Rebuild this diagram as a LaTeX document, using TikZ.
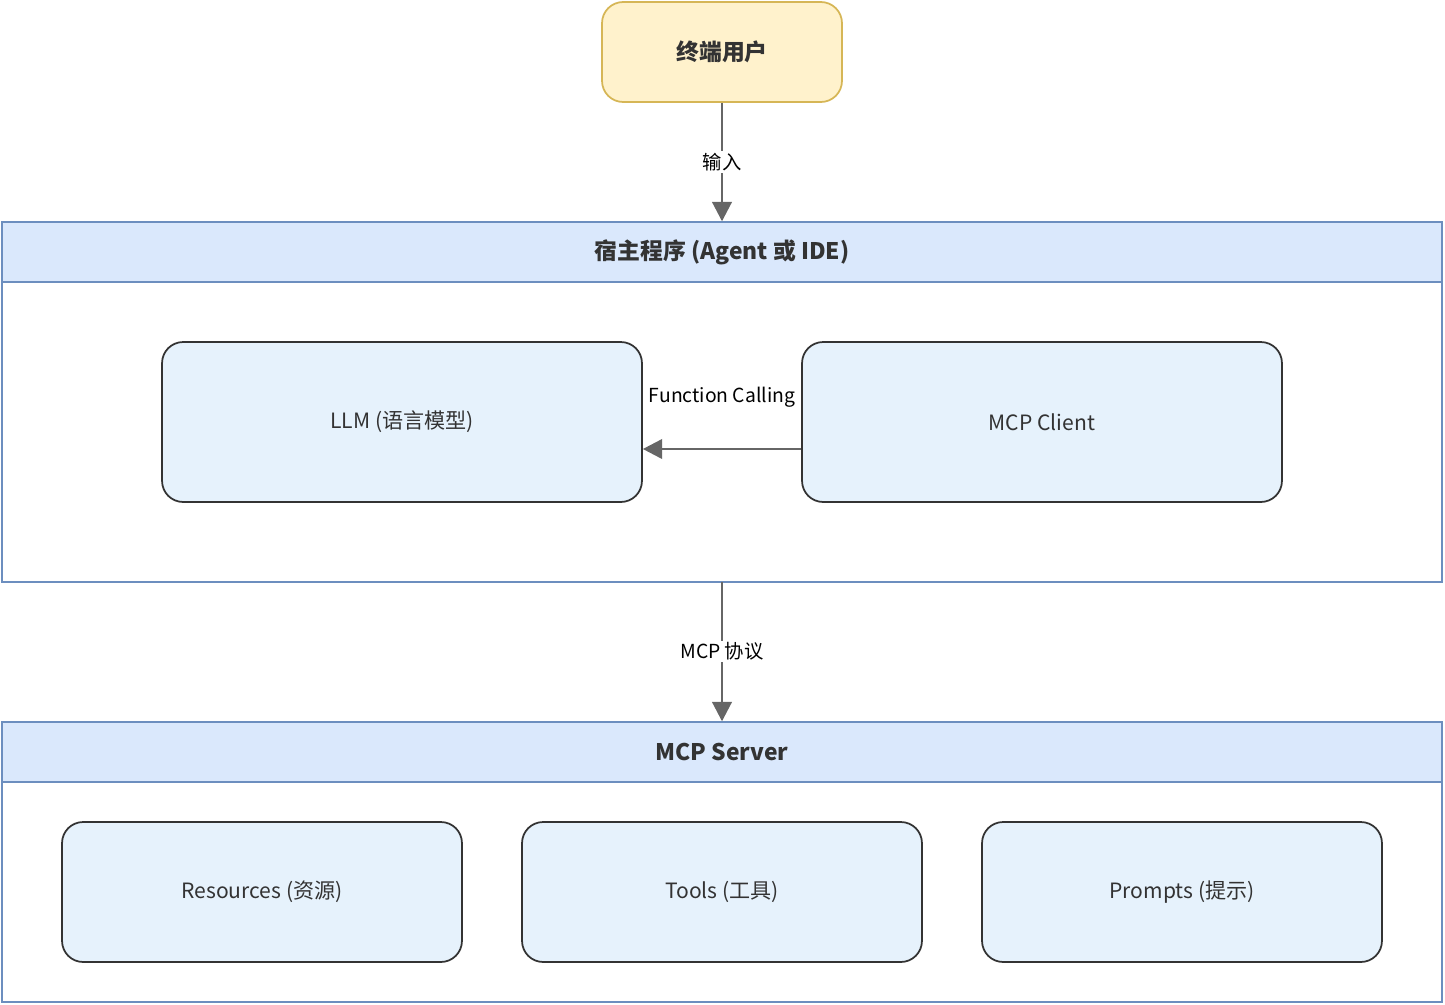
\documentclass[tikz,border=0pt]{standalone}
\usepackage{fontspec}
\setmainfont{Noto Sans CJK SC}
\usetikzlibrary{arrows.meta,positioning}
\definecolor{userfill}{HTML}{FFF2CC}
\definecolor{userdraw}{HTML}{D6B656}
\definecolor{headfill}{HTML}{DAE8FC}
\definecolor{headdraw}{HTML}{6C8EBF}
\definecolor{boxfill}{HTML}{E6F2FC}
\definecolor{boxdraw}{HTML}{333333}
\definecolor{arrowgray}{HTML}{666666}
\tikzset{
  box/.style={draw=boxdraw, fill=boxfill, line width=1pt, rounded corners=12pt,
    inner sep=0pt, font=\fontsize{12}{14}\selectfont, text=boxdraw},
  head/.style={draw=headdraw, fill=headfill, line width=0.8pt, inner sep=0pt,
    minimum width=28.8cm, minimum height=1.2cm, font=\bfseries\fontsize{13}{15}\selectfont, text=boxdraw},
  frame/.style={draw=headdraw, fill=white, line width=0.8pt},
  link/.style={draw=arrowgray, line width=1.6pt, -{Triangle[length=11pt,width=11pt]}},
  lbl/.style={fill=white, inner sep=1pt, font=\fontsize{11}{13}\selectfont, text=black}
}
\begin{document}
\begin{tikzpicture}[x=0.02cm, y=-0.02cm]
\useasboundingbox (0,0) rectangle (1445,1005);

% end user
\node[box, draw=userdraw, fill=userfill, minimum width=4.8cm, minimum height=2cm,
  font=\bfseries\fontsize{13}{15}\selectfont] (user) at (722,52) {终端用户};

% host program
\draw[frame] (2,222) rectangle (1442,582);
\node[head] (host) at (722,252) {宿主程序 (Agent 或 IDE)};
\coordinate (hostbot) at (722,582);
\node[box, minimum width=9.6cm, minimum height=3.2cm] (llm) at (402,422) {LLM (语言模型)};
\node[box, minimum width=9.6cm, minimum height=3.2cm] (client) at (1042,422) {MCP Client};

% mcp server
\draw[frame] (2,722) rectangle (1442,1002);
\node[head] (server) at (722,752) {MCP Server};
\node[box, minimum width=8cm, minimum height=2.8cm] (res) at (262,892) {Resources (资源)};
\node[box, minimum width=8cm, minimum height=2.8cm] (tools) at (722,892) {Tools (工具)};
\node[box, minimum width=8cm, minimum height=2.8cm] (prompts) at (1182,892) {Prompts (提示)};

% connectors
\draw[link] (user.south) -- node[lbl] {输入} (host.north);
\draw[link] (client.west |- 0,449) -- (llm.east |- 0,449);
\node[lbl] (fc) at (722,397) {Function Calling};
\draw[link] (hostbot) -- node[lbl, pos=0.5] {MCP 协议} (server.north);
\end{tikzpicture}
\end{document}
